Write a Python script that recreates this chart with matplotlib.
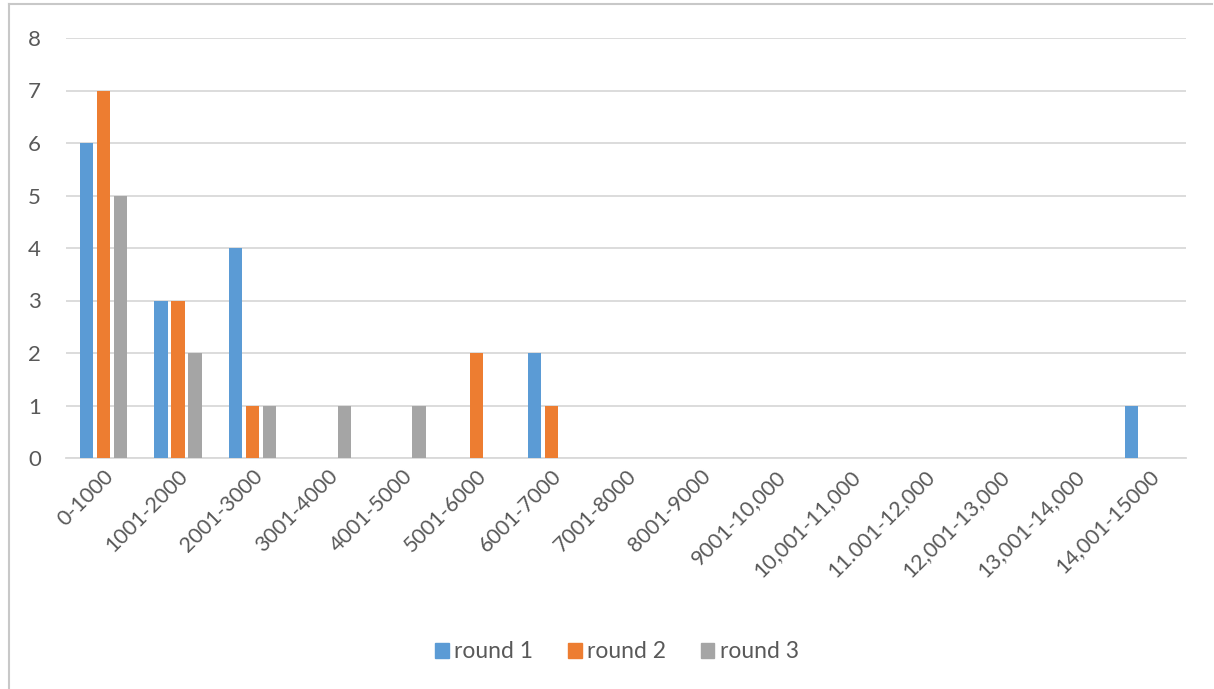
import matplotlib
matplotlib.use("Agg")
import matplotlib.pyplot as plt
import matplotlib.transforms as mtransforms
from matplotlib.lines import Line2D
import numpy as np

categories = ["0-1000", "1001-2000", "2001-3000", "3001-4000", "4001-5000",
              "5001-6000", "6001-7000", "7001-8000", "8001-9000", "9001-10,000",
              "10,001-11,000", "11.001-12,000", "12,001-13,000", "13,001-14,000",
              "14,001-15000"]
round1 = [6, 3, 4, 0, 0, 0, 2, 0, 0, 0, 0, 0, 0, 0, 1]
round2 = [7, 3, 1, 0, 0, 2, 1, 0, 0, 0, 0, 0, 0, 0, 0]
round3 = [5, 2, 1, 1, 1, 0, 0, 0, 0, 0, 0, 0, 0, 0, 0]
series_names = ["round 1", "round 2", "round 3"]
yticks = [0, 1, 2, 3, 4, 5, 6, 7, 8]

colors = ["#5B9BD5", "#ED7D31", "#A5A5A5"]
text_color = "#595959"
plt.rcParams['font.family'] = ['Lato', 'DejaVu Sans']

W, H = 1214, 689
fig = plt.figure(figsize=(W / 100, H / 100), dpi=100)
ax = fig.add_axes([66 / W, 1 - 458 / H, (1186 - 66) / W, (458 - 38) / H])

x = np.arange(len(categories))
bw = 0.18
step = 0.227
for i, (vals, name, c) in enumerate(zip([round1, round2, round3], series_names, colors)):
    ax.bar(x + (i - 1) * step, vals, width=bw, color=c, label=name, zorder=3)

ax.set_xlim(-0.5, len(categories) - 0.5)
ax.set_ylim(0, 8)
ax.set_yticks(yticks)
ax.set_yticklabels([str(v) for v in yticks], fontsize=16, color=text_color)
ax.yaxis.grid(True, color="#D9D9D9", linewidth=1.3, zorder=0)
ax.set_axisbelow(True)
ax.set_xticks(x)
ax.set_xticklabels(categories, rotation=45, ha="right", rotation_mode="anchor",
                   fontsize=15.5, color=text_color)
offset = mtransforms.ScaledTranslation(-8 / 100, 0, fig.dpi_scale_trans)
for lab in ax.get_xticklabels():
    lab.set_transform(lab.get_transform() + offset)
for s in ["left", "right", "top"]:
    ax.spines[s].set_visible(False)
ax.spines["bottom"].set_color("#D9D9D9")
ax.spines["bottom"].set_linewidth(1.3)
ax.tick_params(axis="both", length=0)
ax.tick_params(axis="y", pad=18)
ax.tick_params(axis="x", pad=6)

handles = [plt.Rectangle((0, 0), 1, 1, color=c) for c in colors]
fig.legend(handles, series_names, loc="center", bbox_to_anchor=(617 / W, 1 - 652 / H),
           ncol=3, frameon=False, fontsize=16.5, labelcolor=text_color,
           handlelength=0.6, handleheight=0.6, handletextpad=0.25, columnspacing=1.5)

# chart frame (top and left visible)
fig.add_artist(Line2D([9 / W, 1212 / W], [1 - 4 / H, 1 - 4 / H], color="#C8C8C8", linewidth=1.5))
fig.add_artist(Line2D([9 / W, 9 / W], [1 - 4 / H, 0], color="#C8C8C8", linewidth=1.5))

fig.savefig("out.png", dpi=100)
